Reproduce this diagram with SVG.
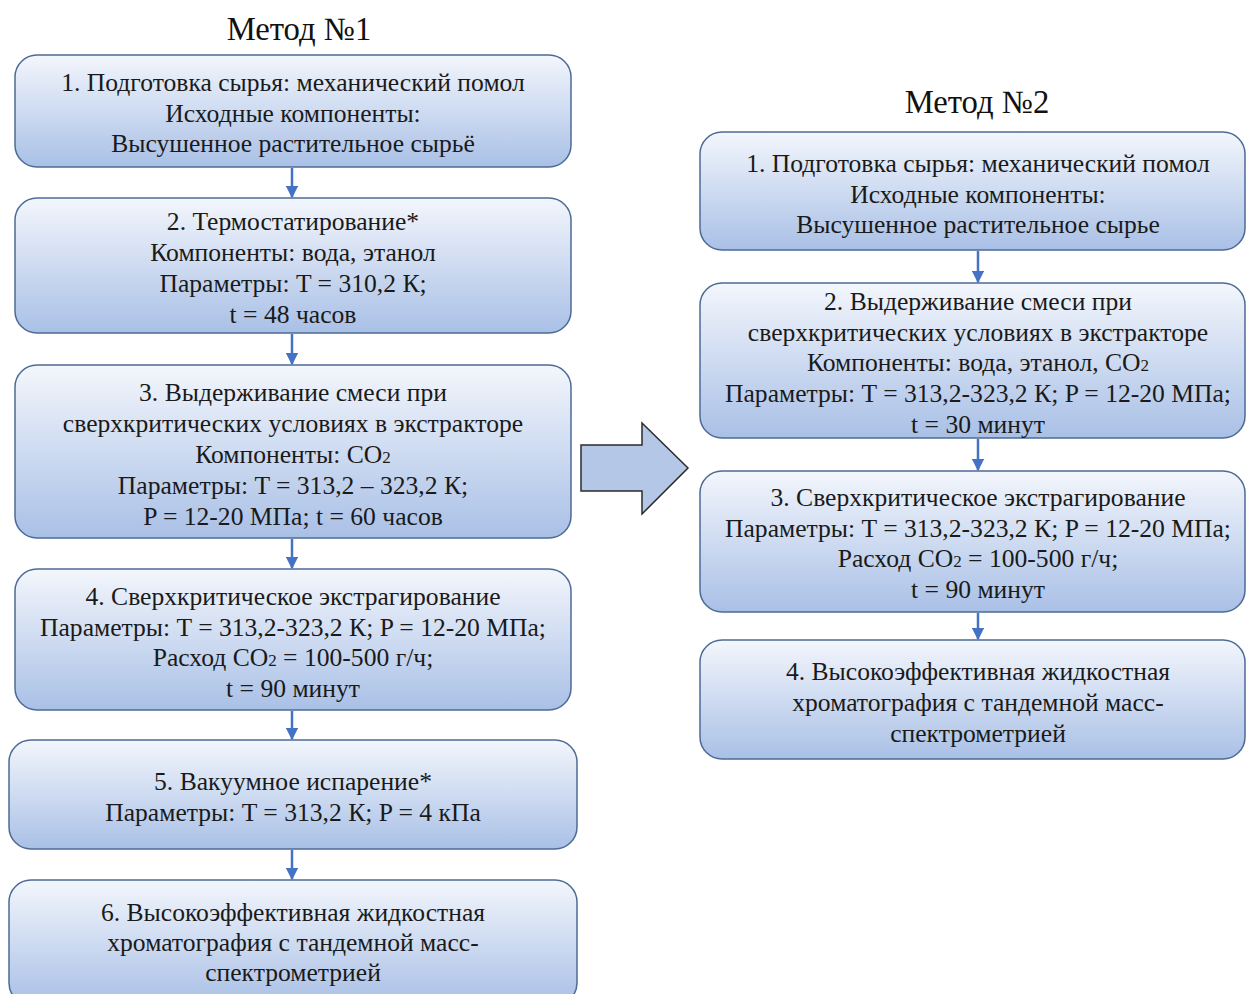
<svg xmlns="http://www.w3.org/2000/svg" width="1246" height="994" viewBox="0 0 1246 994">
<defs>
<linearGradient id="g" x1="0" y1="0" x2="0" y2="1">
<stop offset="0" stop-color="#f3f6fc"/>
<stop offset="1" stop-color="#a9c0e6"/>
</linearGradient>
<marker id="ah" viewBox="0 0 10 10" refX="9" refY="5" markerWidth="5" markerHeight="5" orient="auto" markerUnits="strokeWidth">
<path d="M0,0 L10,5 L0,10 z" fill="#4472c4"/>
</marker>
<style>
.box{fill:url(#g);stroke:#4d6b96;stroke-width:1.5}
.t{font-family:"Liberation Serif","Times New Roman",serif;font-size:25.6px;fill:#1a1a1a;text-anchor:middle}
.title{font-family:"Liberation Serif","Times New Roman",serif;font-size:32.7px;fill:#111;text-anchor:middle}
.c{stroke:#4472c4;stroke-width:2.5;fill:none;marker-end:url(#ah)}
.sub{font-size:17px}
</style>
</defs>
<rect width="1246" height="994" fill="#fff"/>
<text class="title" x="299" y="40">Метод №1</text>
<text class="title" x="977" y="113">Метод №2</text>

<g id="m1-n1"><rect class="box" x="15" y="55" width="556" height="112" rx="22"/>
<text class="t" x="293" y="91">1. Подготовка сырья: механический помол</text>
<text class="t" x="293" y="122">Исходные компоненты:</text>
<text class="t" x="293" y="152">Высушенное растительное сырьё</text></g>

<g id="m1-n2"><rect class="box" x="15" y="198" width="556" height="135" rx="22"/>
<text class="t" x="293" y="230">2. Термостатирование*</text>
<text class="t" x="293" y="261">Компоненты: вода, этанол</text>
<text class="t" x="293" y="292">Параметры: T = 310,2 К;</text>
<text class="t" x="293" y="323">t = 48 часов</text></g>

<g id="m1-n3"><rect class="box" x="15" y="365" width="556" height="173" rx="22"/>
<text class="t" x="293" y="401">3. Выдерживание смеси при</text>
<text class="t" x="293" y="432">сверхкритических условиях в экстракторе</text>
<text class="t" x="293" y="463">Компоненты: CO<tspan class="sub">2</tspan></text>
<text class="t" x="293" y="494">Параметры: T = 313,2 – 323,2 К;</text>
<text class="t" x="293" y="525">P = 12-20 МПа; t = 60 часов</text></g>

<g id="m1-n4"><rect class="box" x="15" y="569" width="556" height="141" rx="22"/>
<text class="t" x="293" y="605">4. Сверхкритическое экстрагирование</text>
<text class="t" x="293" y="636">Параметры: T = 313,2-323,2 К; P = 12-20 МПа;</text>
<text class="t" x="293" y="666">Расход CO<tspan class="sub">2</tspan> = 100-500 г/ч;</text>
<text class="t" x="293" y="697">t = 90 минут</text></g>

<g id="m1-n5"><rect class="box" x="9" y="740" width="568" height="109" rx="22"/>
<text class="t" x="293" y="790">5. Вакуумное испарение*</text>
<text class="t" x="293" y="821">Параметры: T = 313,2 К; P = 4 кПа</text></g>

<g id="m1-n6"><rect class="box" x="9" y="880" width="568" height="125" rx="22"/>
<text class="t" x="293" y="921">6. Высокоэффективная жидкостная</text>
<text class="t" x="293" y="951">хроматография с тандемной масс-</text>
<text class="t" x="293" y="981">спектрометрией</text></g>

<g id="m2-n1"><rect class="box" x="700" y="132" width="545" height="118" rx="22"/>
<text class="t" x="978" y="172">1. Подготовка сырья: механический помол</text>
<text class="t" x="978" y="203">Исходные компоненты:</text>
<text class="t" x="978" y="233">Высушенное растительное сырье</text></g>

<g id="m2-n2"><rect class="box" x="700" y="283" width="545" height="155" rx="22"/>
<text class="t" x="978" y="310">2. Выдерживание смеси при</text>
<text class="t" x="978" y="341">сверхкритических условиях в экстракторе</text>
<text class="t" x="978" y="371">Компоненты: вода, этанол, CO<tspan class="sub">2</tspan></text>
<text class="t" x="978" y="402">Параметры: T = 313,2-323,2 К; P = 12-20 МПа;</text>
<text class="t" x="978" y="433">t = 30 минут</text></g>

<g id="m2-n3"><rect class="box" x="700" y="471" width="545" height="141" rx="22"/>
<text class="t" x="978" y="506">3. Сверхкритическое экстрагирование</text>
<text class="t" x="978" y="537">Параметры: T = 313,2-323,2 К; P = 12-20 МПа;</text>
<text class="t" x="978" y="567">Расход CO<tspan class="sub">2</tspan> = 100-500 г/ч;</text>
<text class="t" x="978" y="598">t = 90 минут</text></g>

<g id="m2-n4"><rect class="box" x="700" y="640" width="545" height="119" rx="22"/>
<text class="t" x="978" y="680">4. Высокоэффективная жидкостная</text>
<text class="t" x="978" y="711">хроматография с тандемной масс-</text>
<text class="t" x="978" y="742">спектрометрией</text></g>

<g id="big-arrow"><path d="M581,445 L642,445 L642,423 L688,468 L642,514 L642,491 L581,491 Z" fill="#b4c7e7" stroke="#2b2b2b" stroke-width="1.5"/></g>

<g id="connectors">
<line class="c" x1="292" y1="168" x2="292" y2="197"/>
<line class="c" x1="292" y1="334" x2="292" y2="364"/>
<line class="c" x1="292" y1="539" x2="292" y2="568"/>
<line class="c" x1="292" y1="711" x2="292" y2="739"/>
<line class="c" x1="292" y1="850" x2="292" y2="879"/>
<line class="c" x1="978" y1="251" x2="978" y2="282"/>
<line class="c" x1="978" y1="439" x2="978" y2="470"/>
<line class="c" x1="978" y1="613" x2="978" y2="639"/>
</g>
</svg>
